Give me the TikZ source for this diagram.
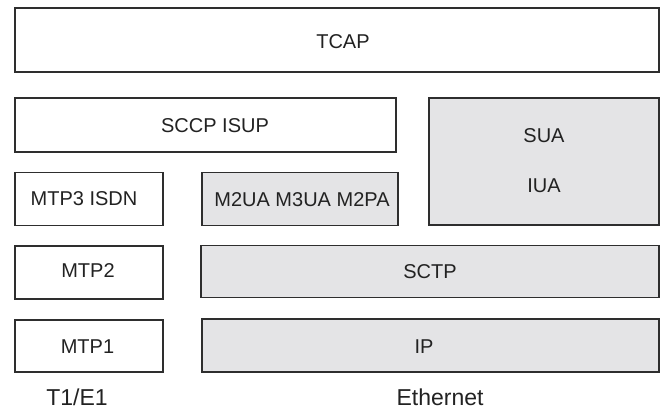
\documentclass[tikz,border=0pt]{standalone}
\usepackage{fontspec}
\setmainfont{Liberation Sans}
\definecolor{edge}{HTML}{2E2E2E}
\definecolor{shade}{HTML}{E4E4E6}
\definecolor{ink}{HTML}{222222}
\begin{document}
\begin{tikzpicture}[x=1pt,y=-1pt,
  layer/.style={draw=edge, line width=1.3pt, fill=white, rectangle, inner sep=0pt},
  iplayer/.style={layer, fill=shade},
  layername/.style={text=ink, inner sep=0pt, font=\fontsize{20}{50}\selectfont, align=center},
  caption/.style={text=ink, inner sep=0pt, font=\fontsize{23}{26}\selectfont}]
  \useasboundingbox (0,0) rectangle (660,409);
  % protocol layers
  \node[layer, minimum width=644pt, minimum height=64pt] (tcap) at (337,40) {};
  \node[layer, minimum width=381pt, minimum height=54pt] (sccp) at (205.5,125) {};
  \node[iplayer, minimum width=230pt, minimum height=127pt] (sua) at (544,161.5) {};
  \node[layer, minimum width=148pt, minimum height=53pt] (mtp3) at (89,199) {};
  \node[iplayer, minimum width=196pt, minimum height=53pt] (m2ua) at (300,199) {};
  \node[layer, minimum width=148pt, minimum height=53pt] (mtp2) at (89,272.5) {};
  \node[iplayer, minimum width=458pt, minimum height=52pt] (sctp) at (430,271.5) {};
  \node[layer, minimum width=148pt, minimum height=52pt] (mtp1) at (89,346) {};
  \node[iplayer, minimum width=457pt, minimum height=53pt] (ip) at (430.5,345.5) {};
  % layer names
  \node[layername] (tcaptext) at (343,42) {TCAP};
  \node[layername] (sccptext) at (215,126) {SCCP ISUP};
  \node[layername] (suatext) at (544,161) {SUA\\IUA};
  \node[layername] (mtp3text) at (84,199) {MTP3 ISDN};
  \node[layername] (m2uatext) at (302,200) {M2UA M3UA M2PA};
  \node[layername] (mtp2text) at (88,271) {MTP2};
  \node[layername] (sctptext) at (430,272) {SCTP};
  \node[layername] (mtp1text) at (87.5,347) {MTP1};
  \node[layername] (iptext) at (424,347) {IP};
  % physical media
  \node[caption] (t1e1) at (77,397) {T1/E1};
  \node[caption] (eth) at (440,397) {Ethernet};
\end{tikzpicture}
\end{document}
